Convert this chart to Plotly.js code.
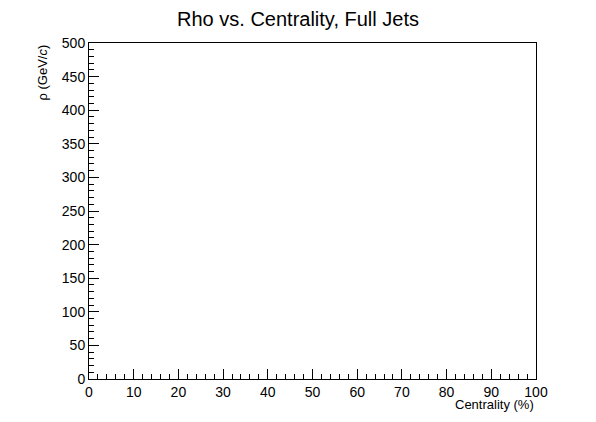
<!DOCTYPE html>
<html>
<head>
<meta charset="utf-8">
<script src="https://cdn.plot.ly/plotly-3.0.1.min.js"></script>
<style>body{margin:0;background:#fff}#chart{width:596px;height:422px}</style>
</head>
<body>
<div id="chart"></div>
<script>
// empty histogram: no entries
var centrality = [];
var rho = [];
var xRange = [0, 100];
var yRange = [0, 500];

var trace = {
    x: centrality,
    y: rho,
    mode: 'lines',
    type: 'scatter',
    line: {color: '#000'},
    showlegend: false
};

var axisStyle = {
    showline: true,
    mirror: true,
    linecolor: '#000',
    linewidth: 1,
    showgrid: false,
    zeroline: false,
    ticks: 'inside',
    ticklen: 10,
    tickcolor: '#000',
    tickfont: {family: 'Liberation Sans, Arial', size: 14, color: '#000'},
    fixedrange: true
};

var layout = {
    width: 596,
    height: 422,
    margin: {l: 89, r: 60, t: 43, b: 43},
    paper_bgcolor: '#fff',
    plot_bgcolor: '#fff',
    title: {
        text: 'Rho vs. Centrality, Full Jets',
        font: {family: 'Liberation Sans, Arial', size: 20, color: '#000'},
        x: 0.5, xanchor: 'center', y: 0.955, yanchor: 'middle'
    },
    xaxis: Object.assign({}, axisStyle, {
        range: xRange,
        dtick: 10,
        tick0: 0,
        minor: {dtick: 2, ticks: 'inside', ticklen: 5, tickcolor: '#000', showgrid: false}
    }),
    yaxis: Object.assign({}, axisStyle, {
        range: yRange,
        dtick: 50,
        tick0: 0,
        minor: {dtick: 10, ticks: 'inside', ticklen: 5, tickcolor: '#000', showgrid: false}
    }),
    annotations: [
        {text: 'Centrality (%)', xref: 'paper', yref: 'paper', x: 1, y: 0,
         xanchor: 'right', yanchor: 'top', yshift: -16, showarrow: false,
         font: {family: 'Liberation Sans, Arial', size: 13, color: '#000'}},
        {text: 'ρ (GeV/<i>c</i>)', xref: 'paper', yref: 'paper', x: 0, y: 1,
         xanchor: 'right', yanchor: 'top', xshift: -38, textangle: -90, showarrow: false,
         font: {family: 'Liberation Sans, Arial', size: 13, color: '#000'}}
    ]
};

Plotly.newPlot('chart', [trace], layout, {displayModeBar: false, staticPlot: true});
</script>
</body>
</html>
